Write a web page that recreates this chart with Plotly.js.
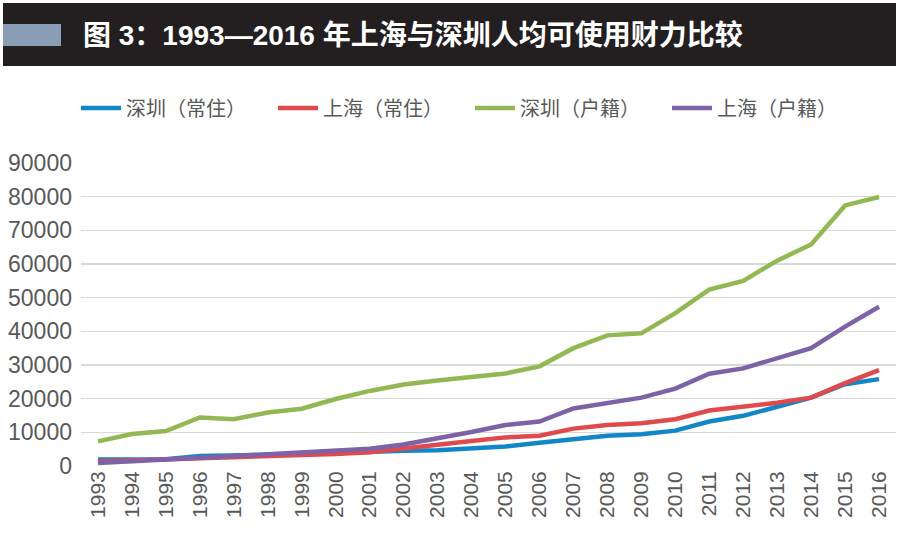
<!DOCTYPE html>
<html>
<head>
<meta charset="utf-8">
<script src="https://cdn.plot.ly/plotly-3.0.1.min.js"></script>
<style>html,body{margin:0;padding:0;background:#fff;}#chart{width:901px;height:533px;}</style>
</head>
<body>
<div id="chart"></div>
<script>
var years = ["1993","1994","1995","1996","1997","1998","1999","2000","2001","2002","2003","2004","2005","2006","2007","2008","2009","2010","2011","2012","2013","2014","2015","2016"];
var seriesNames = ["深圳（常住）","上海（常住）","深圳（户籍）","上海（户籍）"];
var szResident = [1900,1900,2000,3000,3000,3300,3500,3900,4200,4500,4700,5200,5800,6900,8100,9000,9400,10500,13200,14900,17600,20300,24300,25800];
var shResident = [1300,1600,2000,2500,2600,3000,3100,3600,4100,5100,6300,7400,8500,9000,11100,12200,12700,13900,16500,17600,18800,20300,24600,28500];
var szHukou = [7300,9500,10400,14400,13900,15900,17000,19900,22300,24200,25400,26300,27500,29600,35000,38800,39400,45400,52400,55000,61000,65800,77400,79900];
var shHukou = [900,1500,2000,2600,3000,3500,4000,4600,5100,6400,8100,10100,12200,13200,17100,18800,20300,23000,27400,29000,31900,35000,41400,47300];
var colors = ["#1287c8","#e04a4f","#92b854","#7d62a8"];
var titleText = "图 3：1993—2016 年上海与深圳人均可使用财力比较";

var allSeries = [szResident, shResident, szHukou, shHukou];
var traces = allSeries.map(function(vals, i){
  return {
    type: "scatter", mode: "lines", x: years, y: vals, name: seriesNames[i],
    line: {color: colors[i], width: 4.5, shape: "linear"}
  };
});

// plot area: x 81..896, y 163..466
var L = 81, R = 5, T = 163, B = 67, W = 901, H = 533;
var pw = W - L - R, ph = H - T - B;
function px(x){ return (x - L) / pw; }
function py(y){ return (H - B - y) / ph; }

var layout = {
  width: W, height: H,
  margin: {l: L, r: R, t: T, b: B, pad: 0},
  paper_bgcolor: "#ffffff", plot_bgcolor: "#ffffff",
  font: {family: "Liberation Sans, Arial, Noto Sans CJK SC, sans-serif", color: "#595959"},
  showlegend: true,
  legend: {
    orientation: "h", x: px(76), xanchor: "left", y: py(108), yanchor: "middle",
    font: {size: 20, color: "#595959", family: "Noto Sans CJK SC, sans-serif"},
    entrywidth: 142, entrywidthmode: "pixels", itemwidth: 40, bgcolor: "rgba(0,0,0,0)"
  },
  xaxis: {
    type: "category", range: [-0.5, years.length - 0.5], tickangle: -90, showgrid: false, zeroline: false, showline: false,
    ticks: "", tickfont: {size: 21, color: "#595959"}, fixedrange: true
  },
  yaxis: {
    range: [0, 90000], dtick: 10000, tickformat: "d", showgrid: true, gridcolor: "#d9d9d9", gridwidth: 1.5,
    zeroline: false, showline: false, ticks: "", ticklabelstandoff: 8,
    tickfont: {size: 23, color: "#595959"}, fixedrange: true
  },
  shapes: [
    {type: "rect", xref: "paper", yref: "paper", x0: px(3), x1: px(896), y0: py(66), y1: py(3),
     fillcolor: "#231f20", line: {width: 0}, layer: "above"},
    {type: "rect", xref: "paper", yref: "paper", x0: px(3), x1: px(61), y0: py(46), y1: py(24),
     fillcolor: "#8a9db7", line: {width: 0}, layer: "above"}
  ],
  annotations: [
    {xref: "paper", yref: "paper", x: px(81), y: py(36), xanchor: "left", yanchor: "middle",
     text: "<b>" + titleText + "</b>", showarrow: false,
     font: {size: 28, color: "#ffffff", family: "Liberation Sans, Arial, Noto Sans CJK SC, sans-serif"}}
  ]
};

Plotly.newPlot("chart", traces, layout, {staticPlot: true, displayModeBar: false});
</script>
</body>
</html>
